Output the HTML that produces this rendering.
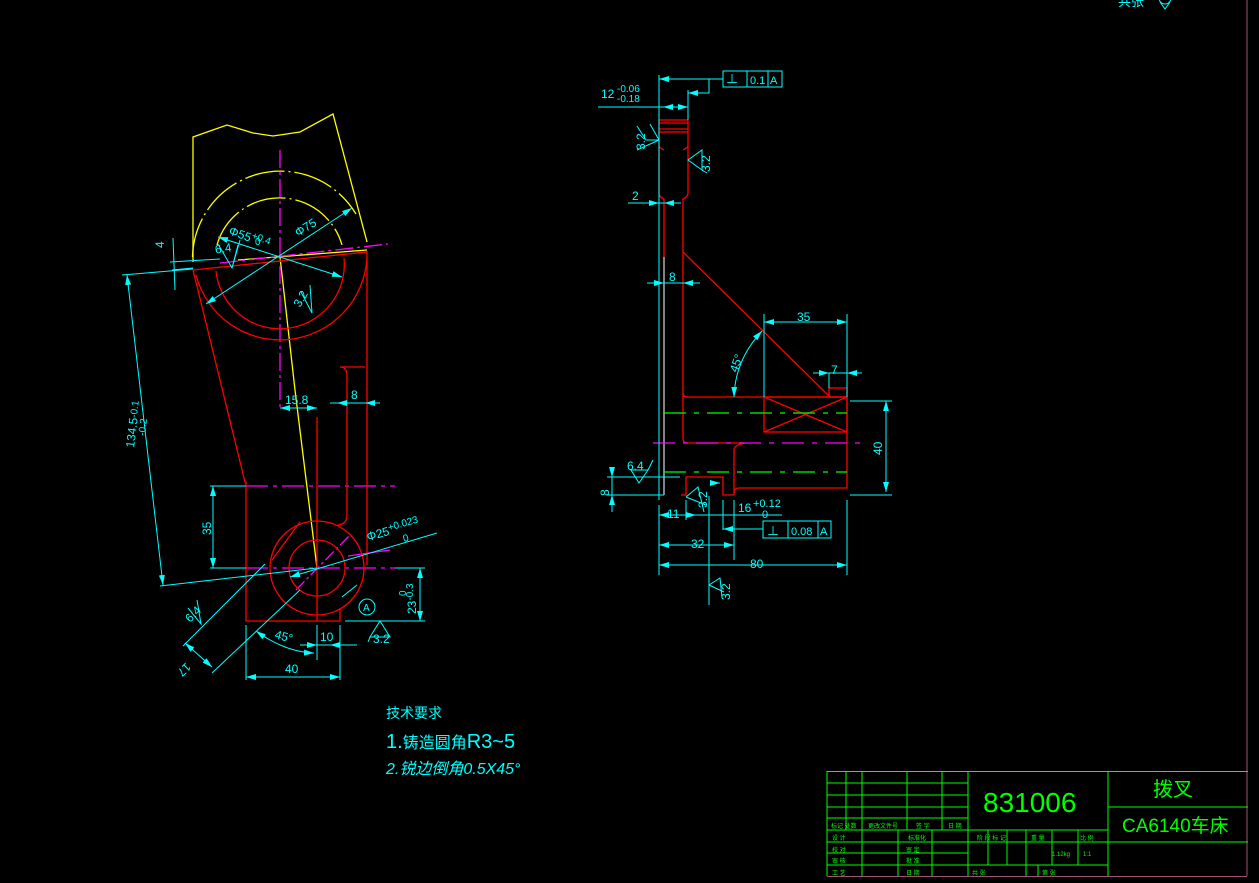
<!DOCTYPE html>
<html><head><meta charset="utf-8"><style>
html,body{margin:0;padding:0;background:#000;}
svg{display:block}
text{font-family:"Liberation Sans","Noto Sans CJK SC",sans-serif;fill:#0ff}
</style></head><body>
<svg width="1259" height="883" viewBox="0 0 1259 883" xmlns="http://www.w3.org/2000/svg">
<defs>
<marker id="a" viewBox="0 0 10 6" refX="10" refY="3" markerWidth="10" markerHeight="6" orient="auto-start-reverse" markerUnits="userSpaceOnUse"><path d="M0,0L10,3L0,6z" fill="#0ff"/></marker>
</defs>
<rect width="1259" height="883" fill="#000"/>
<!-- right frame -->
<line x1="1247" y1="0" x2="1247" y2="876" stroke="#a05070" stroke-width="1"/>
<line x1="827" y1="876.5" x2="1247" y2="876.5" stroke="#a05070"/>
<text x="1118" y="6" font-size="13" font-family="Noto Sans CJK SC">共张</text>
<path d="M1159,-2 a6,6 0 1,0 12,0 M1160,2 L1165,9 L1170,2" stroke="#0ff" fill="none"/>

<!-- LEFT VIEW -->
<g fill="none" stroke-width="1.3">
<!-- yellow -->
<g stroke="#ff0">
<path d="M193,262 L193,137 L227,125 L253,133 L273,136 L300,132 L333,114 L367,242"/>
<path d="M192.5,257 A88,88 0 0 1 356,214" stroke-dasharray="40,4,2,4"/>
<path d="M217,245 A65,65 0 0 1 342,245" stroke-dasharray="40,4,2,4"/>
<path d="M238,260 L367,250"/>
<path d="M280,257 L295,390 L317,568"/>
</g>
<!-- magenta -->
<g stroke="#f0f">
<path d="M280,150 L280,410" stroke-dasharray="18,4,3,4"/>
<path d="M220,263 L388,244" stroke-dasharray="18,4,3,4"/>
<path d="M246,486 L395,486" stroke-dasharray="22,5,4,5"/>
<path d="M246,568 L395,568" stroke-dasharray="22,5,4,5"/>
<path d="M296,590 L350,535" stroke-dasharray="12,3,3,3"/>
<path d="M348,556 L390,550"/>
</g>
<!-- red -->
<g stroke="#f00">
<path d="M193,270 L367,252 L367,565"/>
<path d="M216,271 A64,64 0 0 0 344,258"/>
<path d="M196,275 A87,87 0 0 0 367,258"/>
<path d="M193,270 L245,482 L246,482 L246,621 L340,621 L340,608"/>
<circle cx="317" cy="568" r="47"/>
<circle cx="317" cy="568" r="28"/>
<path d="M317,417 L317,621"/>
<path d="M338,525 Q347,524 347,515 L347,376 Q347,367 340,367 L365,367"/>
<path d="M272,560 L300,522"/>
</g>
</g>
<!-- left dims cyan -->
<g stroke="#0ff" stroke-width="1" fill="none">
<path d="M122,275 L193,269"/>
<path d="M170,262 L220,259"/>
<path d="M172,270 L193,268"/>
<path d="M173,238 L175,290"/>
<path d="M127,275 L163,585" marker-start="url(#a)" marker-end="url(#a)"/>
<path d="M160,586 L317,568"/>
<path d="M218,237 L342,277" marker-start="url(#a)" marker-end="url(#a)"/>
<path d="M352,208 L206,304" marker-start="url(#a)" marker-end="url(#a)"/>
<path d="M218,244 L232,268 L238,245 M232,268 L240,240"/>
<path d="M301,292 L312,313 L310,285"/>
<path d="M280,408 L317,408" marker-start="url(#a)" marker-end="url(#a)"/>
<path d="M330,403 L380,403"/><path d="M347,403 L337,403" marker-end="url(#a)"/><path d="M365,403 L375,403" marker-start="url(#a)"/>
<path d="M210,486 L246,486 M210,568 L246,568"/>
<path d="M213,486 L213,568" marker-start="url(#a)" marker-end="url(#a)"/>
<path d="M437,533 L290,577" marker-end="url(#a)"/>
<path d="M345,621 L425,621 M395,568 L425,568"/>
<path d="M420,568 L420,621" marker-start="url(#a)" marker-end="url(#a)"/>
<path d="M357,585 L342,597"/>
<circle cx="367" cy="607" r="8"/>
<path d="M370,637 L380,621 L390,637 Z M370,637 L368,642"/>
<path d="M300,645 L357,645"/><path d="M307,645 L317,645" marker-end="url(#a)"/><path d="M330,645 L340,645" marker-start="url(#a)"/>
<path d="M317,625 L317,660 M340,625 L340,680 M246,625 L246,680"/>
<path d="M246,677 L340,677" marker-start="url(#a)" marker-end="url(#a)"/>
<path d="M265,564 L183,646 M300,590 L212,673"/>
<path d="M185,643 L212,667" marker-start="url(#a)" marker-end="url(#a)"/>
<path d="M256,631 Q285,652 314,653" marker-start="url(#a)" marker-end="url(#a)"/>
<path d="M188,608 L201,624 L197,600"/>
</g>
<g font-size="12">
<text x="155" y="247" transform="rotate(-90 160 243)">4</text>
<text x="215" y="253" transform="rotate(-8 220 250)">6.4</text>
<text transform="translate(228,234) rotate(20)">Φ55<tspan font-size="10" dy="-4">+0.4</tspan></text>
<text x="255" y="245" font-size="10">0</text>
<text transform="translate(298,237) rotate(-32)">Φ75</text>
<text transform="translate(300,308) rotate(-60)">3.2</text>
<text transform="translate(134,448) rotate(-83)">134.5<tspan font-size="10" dy="-1">-0.1</tspan></text>
<text transform="translate(145,436) rotate(-83)" font-size="10">-0.2</text>
<text x="285" y="404">15.8</text>
<text x="351" y="399">8</text>
<text transform="translate(211,535) rotate(-90)">35</text>
<text transform="translate(368,541) rotate(-16)">Φ25<tspan font-size="10" dy="-4">+0.023</tspan></text>
<text transform="translate(404,542) rotate(-16)" font-size="10">0</text>
<text transform="translate(416,614) rotate(-90)">23<tspan font-size="10" dy="-3">-0.3</tspan></text>
<text transform="translate(406,596) rotate(-90)" font-size="10">0</text>
<text x="363" y="611" font-size="10">A</text>
<text x="373" y="643">3.2</text>
<text x="320" y="641">10</text>
<text transform="translate(274,638) rotate(15)">45°</text>
<text x="285" y="673">40</text>
<text transform="translate(186,662) rotate(135)">17</text>
<text transform="translate(190,623) rotate(-45)">6.4</text>
</g>

<!-- RIGHT VIEW -->
<g fill="none" stroke-width="1.3" stroke="#f00">
<rect x="659" y="120" width="29" height="12"/>
<path d="M659,123 L688,123 M659,129 L688,129"/>
<path d="M659,132 L659,193 Q659,197 664,199 L664,257"/>
<path d="M664,150 Q660,148 659,146 M683,150 Q687,148 688,146"/>
<path d="M688,132 L688,193 Q688,197 683,199 L683,393 Q683,397 688,397 L847,397"/>
<path d="M683,252 L830,397"/>
<rect x="764" y="397" width="83" height="35"/>
<path d="M764,397 L847,432 M764,432 L847,397"/>
<rect x="829" y="388" width="18" height="9"/>
<path d="M847,397 L847,488 L739,488 Q734,488 734,493 L734,495 L723,495 L723,477 L686,477 L686,495 L681,495"/>
<path d="M683,393 L683,438 Q683,443 688,443 L745,443 Q734,445 734,450 L734,493"/>
</g>
<g stroke-width="1.2" fill="none">
<path d="M664,257 L664,495" stroke="#ddd"/>
<path d="M664,413 L847,413 M664,472 L847,472" stroke="#0f0" stroke-dasharray="22,8,5,8"/>
<path d="M653,443 L864,443" stroke="#f0f" stroke-dasharray="22,8,5,8"/>
</g>
<g stroke="#0ff" stroke-width="1" fill="none">
<path d="M659,75 L659,500 M688,90 L688,120"/>
<path d="M598,107 L688,107"/><path d="M663,107 L673,107" marker-start="url(#a)"/><path d="M674,107 L688,107" marker-end="url(#a)"/>
<path d="M723,79 L659,79" marker-end="url(#a)"/>
<path d="M709,79 L709,93 L688,93" marker-end="url(#a)"/>
<rect x="723" y="71" width="59" height="16"/><path d="M747,71 L747,87 M768,71 L768,87"/>
<path d="M628,203 L681,203"/><path d="M649,203 L659,203" marker-end="url(#a)"/><path d="M664,203 L674,203" marker-start="url(#a)"/>
<path d="M647,283 L700,283"/><path d="M656,283 L664,283" marker-end="url(#a)"/><path d="M683,283 L691,283" marker-start="url(#a)"/>
<path d="M637,126 L646,140 L659,140 M650,124 L659,140 L637,150"/>
<path d="M688,160 L702,150 L702,170 Z M702,170 L707,173"/>
<path d="M764,314 L764,397 M847,314 L847,397"/>
<path d="M764,322 L847,322" marker-start="url(#a)" marker-end="url(#a)"/>
<path d="M813,373 L862,373"/><path d="M818,373 L829,373" marker-end="url(#a)"/><path d="M858,373 L847,373" marker-end="url(#a)"/>
<path d="M829,373 L829,388"/>
<path d="M762,331 Q735,360 734,397" marker-start="url(#a)" marker-end="url(#a)"/>
<path d="M850,401 L892,401 M850,495 L892,495"/>
<path d="M886,401 L886,492" marker-start="url(#a)" marker-end="url(#a)"/>
<path d="M607,477 L680,477 M607,495 L664,495"/>
<path d="M612,467 L612,477" marker-end="url(#a)"/><path d="M612,505 L612,495" marker-end="url(#a)"/>
<path d="M612,467 L612,512"/>
<path d="M631,470 L648,470 L639,483 Z M648,470 L653,460"/>
<path d="M686,497 L698,487 L704,512 M686,497 L706,505"/>
<path d="M659,515 L782,515"/><path d="M659,515 L676,515" marker-start="url(#a)"/><path d="M686,515 L696,515" marker-end="url(#a)"/>
<path d="M686,500 L686,520 M723,500 L723,530 M734,500 L734,560"/>
<path d="M709,496 L709,605"/><path d="M710,483 L720,483" marker-end="url(#a)"/>
<path d="M763,529 L723,529" marker-end="url(#a)"/>
<rect x="763" y="521" width="68" height="17"/><path d="M788,521 L788,538 M818,521 L818,538"/>
<path d="M659,545 L734,545" marker-start="url(#a)" marker-end="url(#a)"/>
<path d="M659,505 L659,575 M847,500 L847,575"/>
<path d="M659,565 L847,565" marker-start="url(#a)" marker-end="url(#a)"/>
<path d="M709,585 L720,578 L722,598 M709,585 L724,592"/>
</g>
<g font-size="12">
<text x="601" y="98">12</text><text x="617" y="92" font-size="10">-0.06</text><text x="617" y="102" font-size="10">-0.18</text>
<text x="726" y="83">⊥</text><text x="750" y="84" font-size="11">0.1</text><text x="770" y="84" font-size="11">A</text>
<text transform="translate(645,150) rotate(-90)">3.2</text>
<text transform="translate(710,172) rotate(-90)">3.2</text>
<text x="632" y="200">2</text>
<text x="669" y="281">8</text>
<text x="797" y="321">35</text>
<text x="831" y="374">7</text>
<text transform="translate(737,373) rotate(-70)">45°</text>
<text transform="translate(882,455) rotate(-90)">40</text>
<text x="627" y="470">6.4</text>
<text transform="translate(609,496) rotate(-90)">8</text>
<text transform="translate(707,508) rotate(-90)">3.2</text>
<text x="667" y="518">11</text>
<text x="738" y="512">16</text><text x="753" y="507" font-size="11">+0.12</text><text x="762" y="518" font-size="11">0</text>
<text x="767" y="535">⊥</text><text x="791" y="535" font-size="11">0.08</text><text x="820" y="535" font-size="11">A</text>
<text x="691" y="548">32</text>
<text x="750" y="568">80</text>
<text transform="translate(730,600) rotate(-90)">3.2</text>
</g>

<!-- tech requirements -->
<text x="386" y="718" font-size="14">技术要求</text>
<text x="386" y="748" font-size="20">1.<tspan font-size="16">铸造圆角</tspan>R3~5</text>
<text x="386" y="774" font-size="16" font-style="italic">2.锐边倒角0.5X45°</text>

<!-- title block -->
<g stroke="#0f0" stroke-width="1" fill="none">
<path d="M827,771.5 L1248,771.5 M827,771 L827,876 M968,771 L968,876 M1108,771 L1108,876"/>
<path d="M827,783 L968,783 M827,795 L968,795 M827,807 L968,807 M827,818 L968,818 M827,830 L1108,830 M827,842 L1248,842 M827,853 L968,853 M827,865 L1108,865"/>
<path d="M1108,807 L1248,807"/>
<path d="M846,771 L846,830 M862,771 L862,876 M907,771 L907,830 M942,771 L942,830 M898,830 L898,876 M932,830 L932,876"/>
<path d="M988,830 L988,865 M1007,830 L1007,865 M1026,830 L1026,876 M1052,830 L1052,865 M1078,830 L1078,865 M1038,865 L1038,876"/>
</g>
<g fill="#0f0" font-size="6" style="fill:#0f0">
<text x="831" y="828" style="fill:#0f0">标记 处数</text><text x="868" y="828" style="fill:#0f0">更改文件号</text><text x="916" y="828" style="fill:#0f0">签 字</text><text x="948" y="828" style="fill:#0f0">日 期</text>
<text x="832" y="840" style="fill:#0f0">设 计</text><text x="908" y="840" style="fill:#0f0">标准化</text>
<text x="832" y="852" style="fill:#0f0">校 对</text><text x="906" y="852" style="fill:#0f0">审 定</text>
<text x="832" y="863" style="fill:#0f0">审 核</text><text x="906" y="863" style="fill:#0f0">批 准</text>
<text x="832" y="875" style="fill:#0f0">工 艺</text><text x="906" y="875" style="fill:#0f0">日 期</text>
<text x="977" y="840" style="fill:#0f0">阶 段 标 记</text><text x="1031" y="840" style="fill:#0f0">重 量</text><text x="1080" y="840" style="fill:#0f0">比 例</text>
<text x="1052" y="856" style="fill:#0f0">1.12kg</text><text x="1083" y="856" style="fill:#0f0">1:1</text>
<text x="972" y="875" style="fill:#0f0">共 张</text><text x="1042" y="875" style="fill:#0f0">第 张</text>
</g>
<text x="983" y="812" font-size="28" style="fill:#0f0">831006</text>
<text x="1153" y="796" font-size="20" style="fill:#0f0">拨叉</text>
<text x="1122" y="832" font-size="19" style="fill:#0f0">CA6140车床</text>
</svg>
</body></html>
